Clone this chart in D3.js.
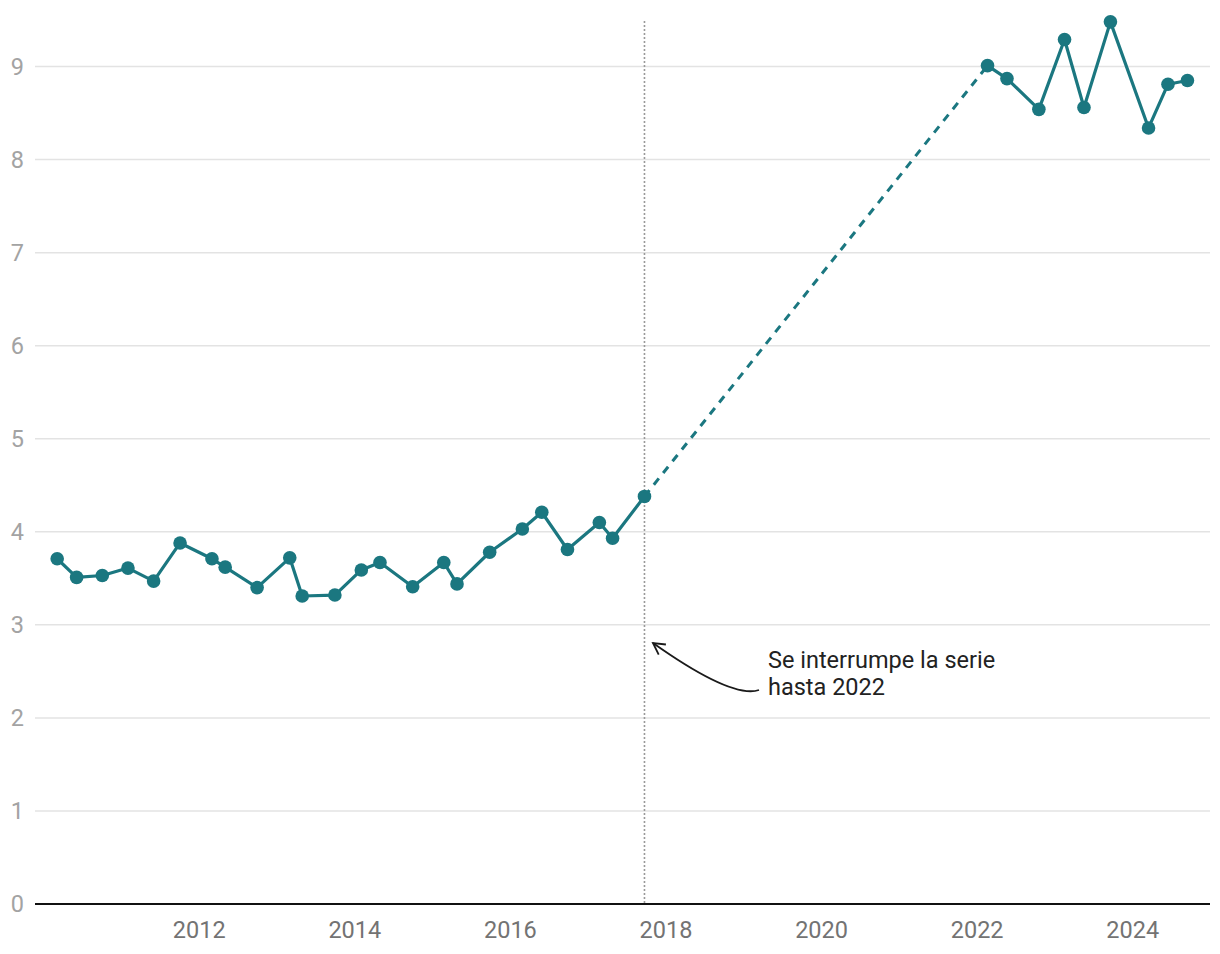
<!DOCTYPE html>
<html>
<head>
<meta charset="utf-8">
<script src="https://cdn.jsdelivr.net/npm/d3@7"></script>
<style>
  html, body { margin: 0; padding: 0; background: #fff; }
  svg { display: block; font-family: Roboto, "Noto Sans", sans-serif; }
</style>
</head>
<body>
<svg id="chart" width="1220" height="954"></svg>
<script>
// --- Data (decimal years, values) ---
const datesBefore = [2010.18, 2010.43, 2010.76, 2011.09, 2011.42, 2011.76, 2012.17, 2012.34, 2012.75,
                     2013.17, 2013.33, 2013.75, 2014.09, 2014.33, 2014.75, 2015.15, 2015.32, 2015.74,
                     2016.16, 2016.41, 2016.74, 2017.15, 2017.32, 2017.73];
const valuesBefore = [3.71, 3.51, 3.53, 3.61, 3.47, 3.88, 3.71, 3.62, 3.40,
                      3.72, 3.31, 3.32, 3.59, 3.67, 3.41, 3.67, 3.44, 3.78,
                      4.03, 4.21, 3.81, 4.10, 3.93, 4.38];
const datesAfter = [2022.14, 2022.39, 2022.80, 2023.13, 2023.38, 2023.72, 2024.21, 2024.46, 2024.71];
const valuesAfter = [9.01, 8.87, 8.54, 9.29, 8.56, 9.48, 8.34, 8.81, 8.85];
const xTickYears = [2012, 2014, 2016, 2018, 2020, 2022, 2024];
const yTickValues = [0, 1, 2, 3, 4, 5, 6, 7, 8, 9];
const annotationLines = ["Se interrumpe la serie", "hasta 2022"];

const color = "#1b7780";
const fontSize = "23.5px";

const svg = d3.select("#chart");
const x = d3.scaleLinear().domain([2009.895, 2025.0]).range([35, 1210]);
const y = d3.scaleLinear().domain([0, 9.5]).range([904, 20]);

const before = datesBefore.map((d, i) => ({ x: d, y: valuesBefore[i] }));
const after = datesAfter.map((d, i) => ({ x: d, y: valuesAfter[i] }));
const gap = [before[before.length - 1], after[0]];

// gridlines
const grid = svg.append("g");
grid.selectAll("line").data(yTickValues.filter(v => v > 0)).join("line")
  .attr("x1", 35).attr("x2", 1210)
  .attr("y1", d => y(d)).attr("y2", d => y(d))
  .attr("stroke", "#e3e3e3").attr("stroke-width", 1.5);

// y axis labels
const yAxis = svg.append("g").attr("transform", "translate(24,0)")
  .call(d3.axisLeft(y).tickValues(yTickValues).tickSize(0).tickPadding(0).tickFormat(d3.format("d")));
yAxis.select(".domain").remove();
yAxis.selectAll("text").attr("fill", "#a3a3a3").style("font-size", fontSize).style("font-family", "Roboto");

// x axis labels
const xAxis = svg.append("g").attr("transform", "translate(0,904)")
  .call(d3.axisBottom(x).tickValues(xTickYears).tickSize(0).tickPadding(17.5).tickFormat(d3.format("d")));
xAxis.select(".domain").remove();
xAxis.selectAll("text").attr("fill", "#737373").style("font-size", fontSize).style("font-family", "Roboto");

// baseline
svg.append("line").attr("x1", 35).attr("x2", 1210).attr("y1", y(0)).attr("y2", y(0))
  .attr("stroke", "#111").attr("stroke-width", 2);

// vertical dotted break line
const breakX = x(gap[0].x);
svg.append("line").attr("x1", breakX).attr("x2", breakX).attr("y1", 21).attr("y2", y(0) - 1)
  .attr("stroke", "#999").attr("stroke-width", 1.6).attr("stroke-dasharray", "2,2");

const line = d3.line().x(d => x(d.x)).y(d => y(d.y));

svg.append("path").datum(gap).attr("d", line).attr("fill", "none")
  .attr("stroke", color).attr("stroke-width", 3).attr("stroke-dasharray", "8,7");
[before, after].forEach(seg => {
  svg.append("path").datum(seg).attr("d", line).attr("fill", "none")
    .attr("stroke", color).attr("stroke-width", 3.2).attr("stroke-linejoin", "round");
});
svg.append("g").selectAll("circle").data(before.concat(after)).join("circle")
  .attr("cx", d => x(d.x)).attr("cy", d => y(d.y)).attr("r", 6.8).attr("fill", color);

// annotation
const ann = svg.append("g");
const p0 = [759, 690], c = [732, 699], p2 = [653, 643];
ann.append("path").attr("d", `M${p0[0]},${p0[1]} Q${c[0]},${c[1]} ${p2[0]},${p2[1]}`)
  .attr("fill", "none").attr("stroke", "#1a1a1a").attr("stroke-width", 1.8);
const ang = Math.atan2(p2[1] - c[1], p2[0] - c[0]);
const L = 13, spread = 0.5;
const arm = a => [p2[0] - L * Math.cos(a), p2[1] - L * Math.sin(a)];
const a1 = arm(ang - spread), a2 = arm(ang + spread);
ann.append("path").attr("d", `M${a1[0]},${a1[1]} L${p2[0]},${p2[1]} L${a2[0]},${a2[1]}`)
  .attr("fill", "none").attr("stroke", "#1a1a1a").attr("stroke-width", 1.8);
ann.append("text").attr("x", 768).attr("y", 668).attr("fill", "#222")
  .style("font-size", fontSize).style("font-family", "Roboto")
  .selectAll("tspan").data(annotationLines).join("tspan")
  .attr("x", 768).attr("dy", (d, i) => i === 0 ? 0 : 27).text(d => d);
</script>
</body>
</html>
